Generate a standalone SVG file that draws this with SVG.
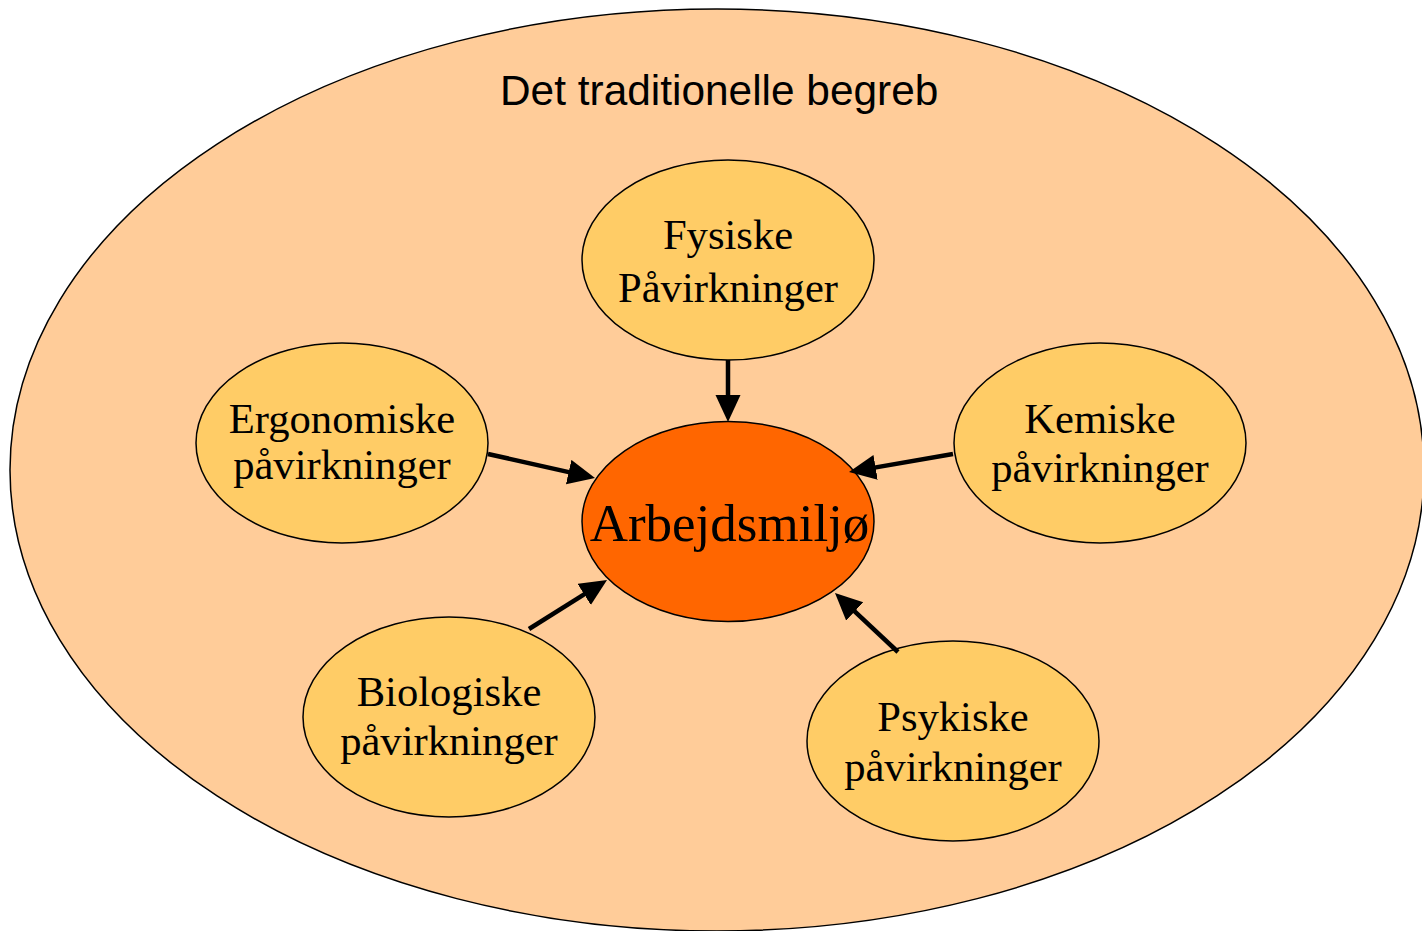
<svg xmlns="http://www.w3.org/2000/svg" width="1422" height="931" viewBox="0 0 1422 931">
  <defs>
    <style>
      .outer { fill: #FFCC99; stroke: #000; stroke-width: 1.5; }
      .factor { fill: #FFCC66; stroke: #000; stroke-width: 1.5; }
      .core { fill: #FF6600; stroke: #000; stroke-width: 1.5; }
      .title { font-family: "Liberation Sans", Arial, sans-serif; font-size: 42.4px; fill: #000; }
      .label { font-family: "Liberation Serif", "Times New Roman", serif; font-size: 42.6px; fill: #000; text-anchor: middle; }
      .core-label { font-family: "Liberation Serif", "Times New Roman", serif; font-size: 53px; fill: #000; text-anchor: middle; }
      .edge { stroke: #000; stroke-width: 4.5; fill: none; marker-end: url(#arrow); }
    </style>
    <marker id="arrow" markerUnits="userSpaceOnUse" markerWidth="28" markerHeight="26" refX="7" refY="12.5" orient="auto">
      <path d="M0,0 L27,12.5 L0,25 Z" fill="#000"/>
    </marker>
  </defs>

  <!-- outer boundary: the traditional concept -->
  <g id="traditional">
    <ellipse class="outer" cx="717" cy="470" rx="707" ry="461"/>
    <text class="title" x="500" y="105">Det traditionelle begreb</text>
  </g>

  <!-- influence factors -->
  <g id="fysiske">
    <ellipse class="factor" cx="728" cy="260" rx="146" ry="100"/>
    <text class="label" x="728" y="249">Fysiske</text>
    <text class="label" x="728" y="302">Påvirkninger</text>
  </g>
  <g id="ergonomiske">
    <ellipse class="factor" cx="342" cy="443" rx="146" ry="100"/>
    <text class="label" x="342" y="433">Ergonomiske</text>
    <text class="label" x="342" y="479">påvirkninger</text>
  </g>
  <g id="kemiske">
    <ellipse class="factor" cx="1100" cy="443" rx="146" ry="100"/>
    <text class="label" x="1100" y="433">Kemiske</text>
    <text class="label" x="1100" y="482">påvirkninger</text>
  </g>
  <g id="biologiske">
    <ellipse class="factor" cx="449" cy="717" rx="146" ry="100"/>
    <text class="label" x="449" y="706">Biologiske</text>
    <text class="label" x="449" y="755">påvirkninger</text>
  </g>
  <g id="psykiske">
    <ellipse class="factor" cx="953" cy="741" rx="146" ry="100"/>
    <text class="label" x="953" y="731">Psykiske</text>
    <text class="label" x="953" y="781">påvirkninger</text>
  </g>

  <!-- central node -->
  <g id="arbejdsmiljo">
    <ellipse class="core" cx="728" cy="521.5" rx="146" ry="100"/>
    <text class="core-label" x="729.5" y="541">Arbejdsmiljø</text>
  </g>

  <!-- connectors, each pointing at the central node -->
  <g id="connectors">
    <line class="edge" x1="728" y1="360" x2="728" y2="402"/>
    <line class="edge" x1="488" y1="454" x2="575.5" y2="473.6"/>
    <line class="edge" x1="953" y1="454" x2="868.7" y2="468.6"/>
    <line class="edge" x1="529" y1="629" x2="590.1" y2="590.6"/>
    <line class="edge" x1="898" y1="652" x2="849.6" y2="606.7"/>
  </g>
</svg>
